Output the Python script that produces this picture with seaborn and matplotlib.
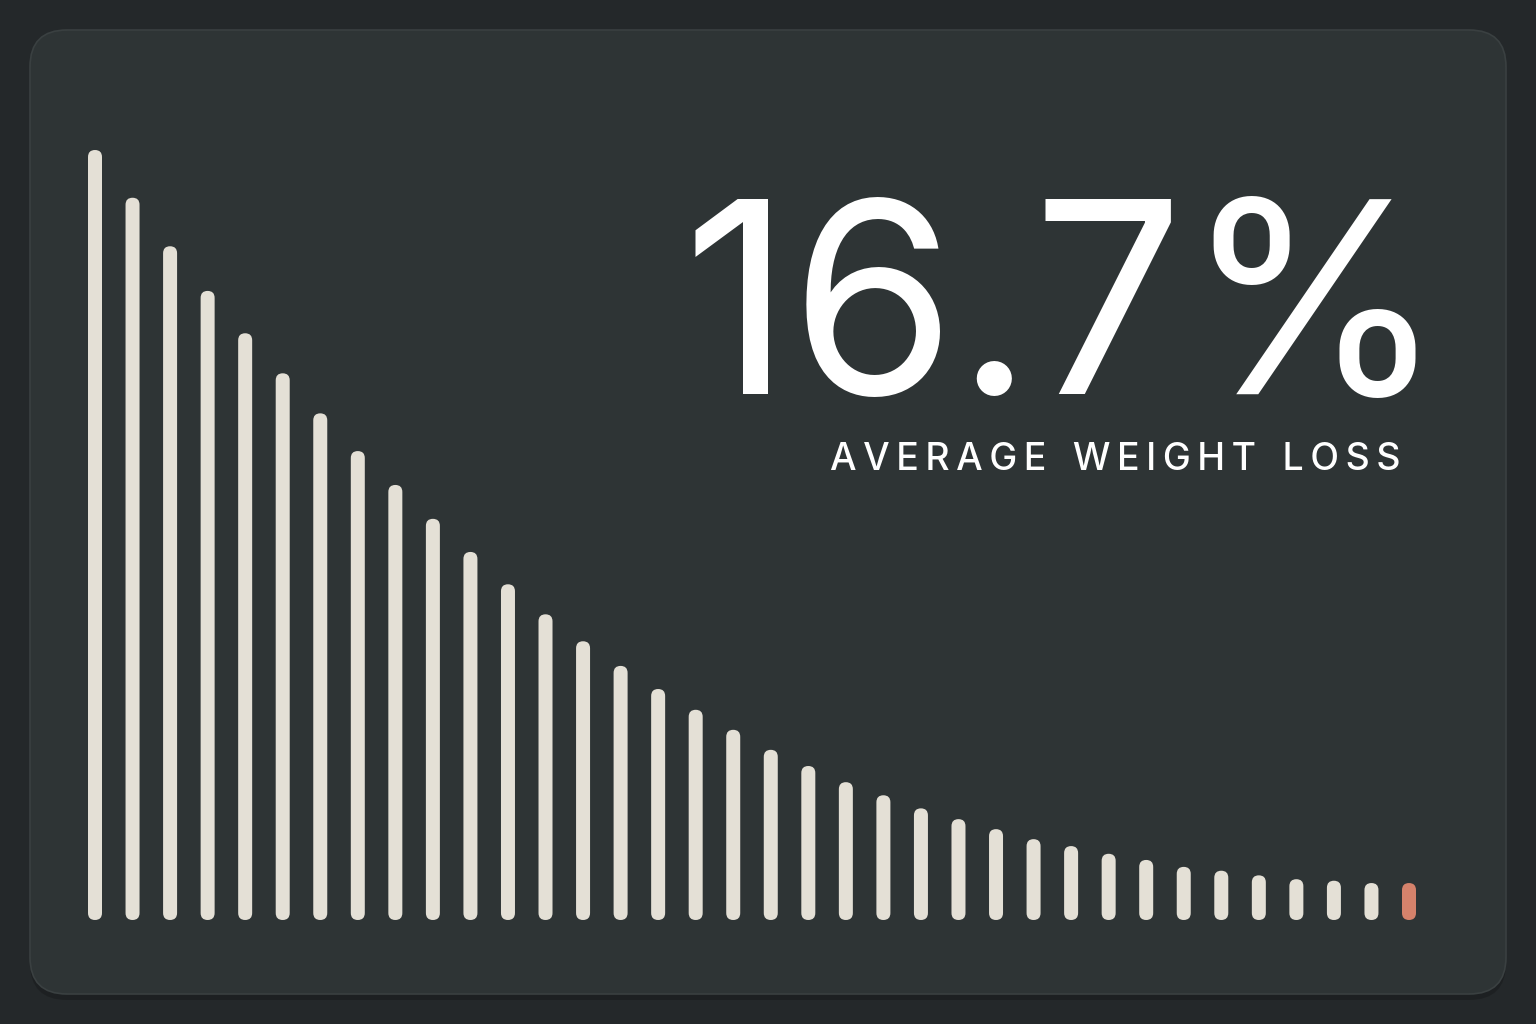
import matplotlib
matplotlib.use("Agg")
import matplotlib.pyplot as plt
from matplotlib.patches import FancyBboxPatch
import seaborn as sns
import pandas as pd

# ---- data ----
weeks = list(range(1, 37))
values = [100, 93.8, 87.5, 81.7, 76.2, 71.0, 65.8, 60.9, 56.5, 52.1,
          47.8, 43.6, 39.7, 36.2, 33.0, 30.0, 27.3, 24.7, 22.1, 20.0,
          17.9, 16.2, 14.5, 13.1, 11.8, 10.5, 9.6, 8.6, 7.8, 6.9,
          6.4, 5.8, 5.3, 5.1, 4.8, 4.8]
headline = "16.7%"
subtitle = "AVERAGE WEIGHT LOSS"

BG = "#24282a"
CARD = "#2e3435"
BAR = "#e4e0d6"
ACCENT = "#d5826b"

df = pd.DataFrame({"week": [str(w) for w in weeks], "value": values})
df["kind"] = ["base"] * (len(values) - 1) + ["accent"]

W, H = 1536, 1024
fig = plt.figure(figsize=(W / 100, H / 100), dpi=100)
fig.patch.set_facecolor(BG)

# card shadow + card
shadow = FancyBboxPatch((30 / W, (1024 - 1000) / H), 1476 / W, 966 / H,
                        boxstyle="round,pad=0,rounding_size=0.024",
                        mutation_aspect=W / H,
                        transform=fig.transFigure, facecolor="#1c1f20",
                        edgecolor="none", alpha=0.8, zorder=0)
fig.patches.append(shadow)
card = FancyBboxPatch((30 / W, (1024 - 994) / H), 1476 / W, 964 / H,
                      boxstyle="round,pad=0,rounding_size=0.024",
                      mutation_aspect=W / H,
                      transform=fig.transFigure, facecolor=CARD,
                      edgecolor="#3a4041", linewidth=1.2, zorder=1)
fig.patches.append(card)

# axes geometry (pixels)
x0_px, step_px = 95, (1409 - 95) / 35
left_px = x0_px - 0.5 * step_px
right_px = 1409 + 0.5 * step_px
bottom_px, top_px = 920, 150
ax = fig.add_axes([left_px / W, (H - bottom_px) / H,
                   (right_px - left_px) / W, (bottom_px - top_px) / H])
ax.set_facecolor("none")
ax.set_zorder(2)

bar_w = 14 / step_px
sns.barplot(data=df, x="week", y="value", hue="kind",
            palette={"base": BAR, "accent": ACCENT},
            width=bar_w, legend=False, ax=ax, saturation=1)
ax.set_xlim(-0.5, len(values) - 0.5)
ax.set_ylim(0, 100)
ax.axis("off")

# replace rectangles with rounded pills
ydata_per_px = 100 / (bottom_px - top_px)
xdata_per_px = 1 / step_px
aspect = ydata_per_px / xdata_per_px
for p in list(ax.patches):
    x, y = p.get_x(), p.get_y()
    w, h = p.get_width(), p.get_height()
    if h <= 0:
        continue
    fc = p.get_facecolor()
    p.set_visible(False)
    pill = FancyBboxPatch((x, y), w, h,
                          boxstyle=f"round,pad=0,rounding_size={w / 2}",
                          mutation_aspect=aspect,
                          facecolor=fc, edgecolor="none", clip_on=False,
                          zorder=3)
    ax.add_patch(pill)

# text
fig.text(1446 / W, (H - 394) / H, headline, ha="right", va="baseline",
         fontsize=192, color="white", family="Inter", weight="normal",
         zorder=5)
spaced = " \u2009 ".join("\u2009".join(list(word)) for word in subtitle.split(" "))
fig.text(1400 / W, (H - 470) / H, spaced,
         ha="right", va="baseline", fontsize=27, color="white",
         family=["Inter", "DejaVu Sans"], weight="medium", zorder=5)

fig.savefig("out.png", dpi=100, facecolor=BG)
